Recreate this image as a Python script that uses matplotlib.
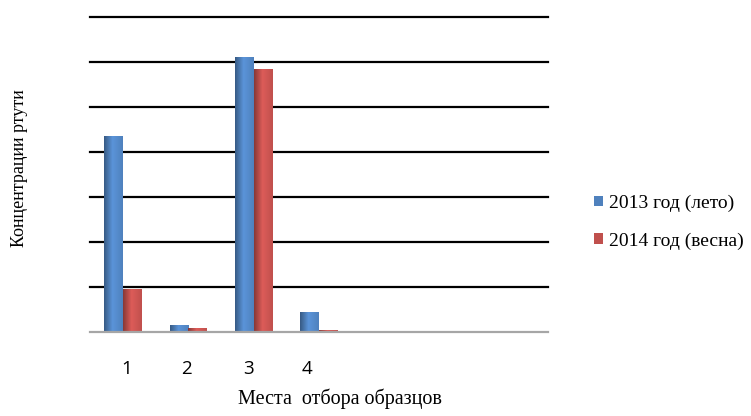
import numpy as np
import matplotlib
matplotlib.use('Agg')
import matplotlib.pyplot as plt
from matplotlib.colors import LinearSegmentedColormap, to_rgb

# ── Data ────────────────────────────────────────────────────────────────
sites = ['1', '2', '3', '4', '', '', '']
summer_2013 = [4.36, 0.16, 6.12, 0.44, 0, 0, 0]
spring_2014 = [0.96, 0.08, 5.84, 0.04, 0, 0, 0]
series_names = ['2013 год (лето)', '2014 год (весна)']
tick_shift = [0.06, -0.03, -0.08, -0.19]   # label offsets under each group

blue, red = '#4F81BD', '#C0504D'
serif = ['Liberation Serif', 'DejaVu Serif']

fig = plt.figure(figsize=(7.51, 4.16), dpi=100)
ax = fig.add_axes([90 / 751, 84 / 416, 458 / 751, 315 / 416])

x = np.arange(len(sites))
w = 0.283

def shaded(bars, base):
    # horizontal shading across each bar: dark edge, light centre
    rgb = np.array(to_rgb(base))
    cmap = LinearSegmentedColormap.from_list(
        'sh', [(0, tuple(rgb * 0.7)),
               (0.45, tuple(np.minimum(1, rgb * 1.15))),
               (1, tuple(rgb))])
    grad = np.linspace(0, 1, 64).reshape(1, -1)
    for b in bars:
        if b.get_height() <= 0:
            continue
        x0, y0 = b.get_x(), b.get_y()
        im = ax.imshow(grad, cmap=cmap, aspect='auto', zorder=3,
                       extent=(x0, x0 + b.get_width(), y0, y0 + b.get_height()))
        im.set_clip_path(b)

b1 = ax.bar(x - w / 2, summer_2013, w, color=blue, label=series_names[0], zorder=3)
b2 = ax.bar(x + w / 2, spring_2014, w, color=red, label=series_names[1], zorder=3)
shaded(b1, blue)
shaded(b2, red)

ax.set_xlim(-0.5, len(sites) - 0.5)
ax.set_ylim(0, 7)
for y in range(1, 8):
    ax.axhline(y, color='black', lw=1.6, zorder=1, clip_on=False)
ax.axhline(0, color='#A6A6A6', lw=1.6, zorder=4, clip_on=False)

for s in ax.spines.values():
    s.set_visible(False)
ax.set_yticks([])
ax.set_xticks(x[:4] + np.array(tick_shift))
ax.set_xticklabels(sites[:4], fontsize=13.5, family=['Open Sans', 'DejaVu Sans'])
ax.tick_params(axis='x', length=0, pad=20)

ax.set_xlabel('Места  отбора образцов', fontsize=14.5, family=serif,
              labelpad=8, x=0.546)
fig.text(0.026, 0.596, 'Концентрации ртути', rotation=90, fontsize=13,
         family=serif, ha='center', va='center')

leg = fig.legend(handles=[b1, b2], loc='center left', bbox_to_anchor=(0.768, 0.466),
                 frameon=False, prop={'family': serif, 'size': 14},
                 handlelength=0.45, handleheight=0.45, handletextpad=0.3,
                 labelspacing=1.05)

fig.savefig('out.png', dpi=100, facecolor='white')
